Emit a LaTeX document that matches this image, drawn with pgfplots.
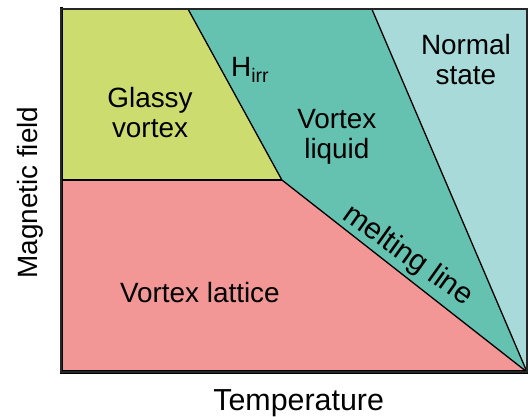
\documentclass[border=0pt]{standalone}
\usepackage{pgfplots}
\pgfplotsset{compat=1.18}
\usepackage{fontspec}
\setmainfont{Liberation Sans}
\definecolor{glassy}{RGB}{205,220,110}
\definecolor{lattice}{RGB}{242,150,150}
\definecolor{liquid}{RGB}{102,194,176}
\definecolor{normal}{RGB}{168,218,218}
\begin{document}
\begin{tikzpicture}[x=1bp,y=1bp]
\begin{axis}[scale only axis, width=466bp, height=363bp,
  xmin=0, xmax=1, ymin=0, ymax=1,
  at={(61bp,45bp)}, anchor=south west,
  ticks=none, clip=false, axis on top,
  axis line style={line width=1.3bp, black!85}]
% regions
\addplot[fill=lattice, draw=none] coordinates {(0,0) (0,0.529) (0.474,0.529) (1,0)} -- cycle;
\addplot[fill=glassy, draw=none] coordinates {(0,0.529) (0,1) (0.2725,1) (0.474,0.529)} -- cycle;
\addplot[fill=liquid, draw=none] coordinates {(0.2725,1) (0.667,1) (1,0) (0.474,0.529)} -- cycle;
\addplot[fill=normal, draw=none] coordinates {(0.667,1) (1,1) (1,0)} -- cycle;
% boundaries
\addplot[black, line width=1.3bp] coordinates {(0,0.529) (0.474,0.529)};
\addplot[black, line width=1.3bp] coordinates {(0.2725,1) (0.474,0.529) (1,0)};
\addplot[black, line width=1.3bp] coordinates {(0.667,1) (1,0)};
\draw[black, line width=3bp, line cap=rect] (rel axis cs:0,1) -- (rel axis cs:0,0) -- (rel axis cs:1,0);
% labels
\begin{scope}[font=\fontsize{28}{30}\selectfont]
\node[align=center] at (axis cs:0.191,0.716) {Glassy\\vortex};
\node at (axis cs:0.406,0.832) {H$_{\mathrm{irr}}$};
\node[align=center] at (axis cs:0.592,0.647) {Vortex\\liquid};
\node[align=center] at (axis cs:0.869,0.862) {Normal\\state};
\node at (axis cs:0.298,0.218) {Vortex lattice};
\node[xshift=-31bp, rotate=90] at (rel axis cs:0,0.494) {Magnetic field};
\end{scope}
\node[font=\fontsize{30}{32}\selectfont, rotate=-35.5, anchor=base] at (axis cs:0.734,0.302) {melting line};
\node[font=\fontsize{30.5}{32}\selectfont, yshift=-31bp] at (rel axis cs:0.51,0) {Temperature};
\end{axis}
\pgfresetboundingbox
\path[use as bounding box] (0,0) rectangle (528bp,417bp);
\end{tikzpicture}
\end{document}
